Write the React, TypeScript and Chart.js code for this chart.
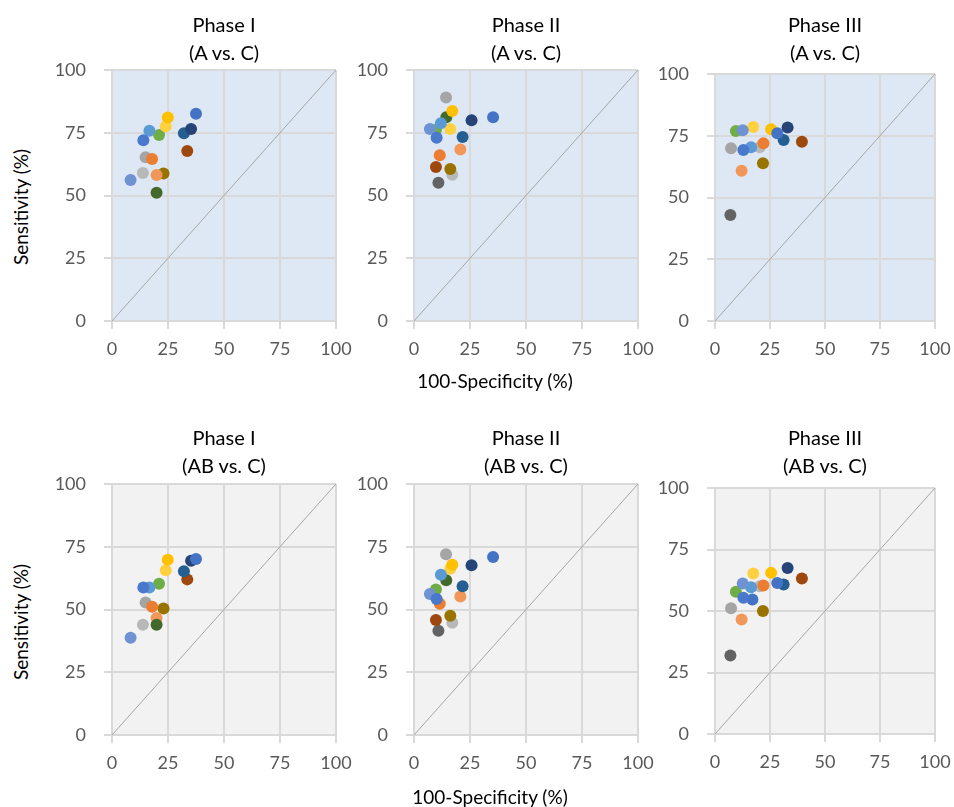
import React, { useEffect, useRef } from "react";
import { Chart, registerables } from "chart.js";

Chart.register(...registerables);

// Series (one per study/reader), names and colours
const seriesNames = [
  "S1", "S2", "S3", "S4", "S5", "S6", "S7", "S8", "S9",
  "S10", "S11", "S12", "S13", "S14", "S15", "S16", "S17", "S18",
];
const seriesColors = [
  "#4472C4", "#4A78CC", "#6E92D2", "#5B9BD5", "#264478", "#255E91",
  "#FFC000", "#FFD040", "#70AD47", "#43682B", "#ED7D31", "#F1975A",
  "#9E480E", "#997300", "#A5A5A5", "#B8B8B8", "#636363", "#4472C4",
];

// 100-Specificity (%) per phase (shared by A vs. C and AB vs. C)
const phase1X = [37.5, 14, 8.3, 16.7, 35.3, 32.1, 24.9, 24, 21, 19.9, 17.9, 19.9, 33.6, 23, 15, 13.8, null, null];
const phase2X = [35.3, 10.1, 7.1, 12, 25.7, 21.7, 17.1, 16.2, 9.8, 14.4, 11.5, 20.7, 9.8, 16.2, 14.3, 17.1, 10.9, null];
const phase3X = [28.3, 12.9, 12.6, 16.4, 33, 31.2, 25.5, 17.4, 9.5, null, 22, 12.1, 39.5, 21.8, 7.3, 20.3, 7, 17];

// Sensitivity (%) per panel
const phase1A_Y = [82.6, 72, 56.2, 75.8, 76.5, 74.8, 81.1, 77.6, 74.1, 51.1, 64.5, 58.2, 67.7, 58.8, 65.2, 59, null, null];
const phase2A_Y = [81.2, 73, 76.5, 78.8, 80, 73.3, 83.7, 76.5, 76.2, 81.2, 66, 68.3, 61.4, 60.6, 89, 58.3, 55.1, null];
const phase3A_Y = [76, 69.2, 77.2, 70.3, 78.3, 73.3, 77.6, 78.5, 76.9, null, 72, 60.8, 72.6, 63.9, 69.9, 70.3, 42.9, null];
const phase1AB_Y = [70.1, 58.8, 38.7, 58.8, 69.4, 65.2, 69.8, 65.6, 60.3, 43.9, 51.1, 46.6, 62, 50.4, 52.8, 43.9, null, null];
const phase2AB_Y = [70.9, 54.2, 56.2, 63.8, 67.6, 59.3, 67.8, 66.2, 58, 61.7, 52.3, 55.2, 45.8, 47.5, 72, 44.7, 41.5, null];
const phase3AB_Y = [61.4, 55.4, 61.2, 59.7, 67.5, 60.8, 65.5, 65.2, 57.8, null, 60.4, 46.5, 63.2, 50, 51.1, 60.1, 31.9, 54.7];

const axisTicks = [0, 25, 50, 75, 100];

const panels = [
  { title: ["Phase I", "(A vs. C)"], xs: phase1X, ys: phase1A_Y, bg: "#DEE8F4", L: 112, R: 336, T: 70, B: 321 },
  { title: ["Phase II", "(A vs. C)"], xs: phase2X, ys: phase2A_Y, bg: "#DEE8F4", L: 414, R: 638, T: 70, B: 321 },
  { title: ["Phase III", "(A vs. C)"], xs: phase3X, ys: phase3A_Y, bg: "#DEE8F4", L: 715, R: 935, T: 74, B: 321 },
  { title: ["Phase I", "(AB vs. C)"], xs: phase1X, ys: phase1AB_Y, bg: "#F2F2F2", L: 112, R: 336, T: 484, B: 735 },
  { title: ["Phase II", "(AB vs. C)"], xs: phase2X, ys: phase2AB_Y, bg: "#F2F2F2", L: 414, R: 638, T: 484, B: 735 },
  { title: ["Phase III", "(AB vs. C)"], xs: phase3X, ys: phase3AB_Y, bg: "#F2F2F2", L: 715, R: 935, T: 488, B: 734 },
];

const Y_AXIS_W = 72;
const X_AXIS_H = 50;
const PAD_TOP = 12;
const PAD_RIGHT = 24;
const FONT = "Lato, 'Open Sans', sans-serif";

function Panel({ p }: { p: any }) {
  const ref = useRef<HTMLCanvasElement>(null);
  const w = Y_AXIS_W + (p.R - p.L) + PAD_RIGHT;
  const h = PAD_TOP + (p.B - p.T) + X_AXIS_H;
  useEffect(() => {
    if (!ref.current) return;
    const bgPlugin = {
      id: "plotBg",
      beforeDraw(chart: any) {
        const { ctx, chartArea } = chart;
        ctx.save();
        ctx.fillStyle = p.bg;
        ctx.fillRect(chartArea.left, chartArea.top, chartArea.right - chartArea.left, chartArea.bottom - chartArea.top);
        ctx.restore();
      },
    };
    const pointSets = seriesNames.map((name, i) => ({
      type: "scatter" as const,
      label: name,
      data: p.xs[i] == null || p.ys[i] == null ? [] : [{ x: p.xs[i], y: p.ys[i] }],
      backgroundColor: seriesColors[i],
      borderWidth: 0,
      pointRadius: 6,
      order: 1,
    }));
    const diag = {
      type: "line" as const,
      label: "diag",
      data: [{ x: 0, y: 0 }, { x: 100, y: 100 }],
      borderColor: "#A6A6A6",
      borderWidth: 1,
      pointRadius: 0,
      order: 2,
    };
    const tickOpts = {
      stepSize: 25,
      color: "#595959",
      font: { family: FONT, size: 18 },
    };
    const chart = new Chart(ref.current, {
      type: "scatter",
      data: { datasets: [diag, ...pointSets] as any },
      options: {
        animation: false,
        responsive: false,
        devicePixelRatio: 1,
        layout: { padding: { top: PAD_TOP, right: PAD_RIGHT, left: 0, bottom: 0 } },
        plugins: { legend: { display: false }, tooltip: { enabled: false }, title: { display: false } },
        scales: {
          x: {
            type: "linear",
            min: 0,
            max: 100,
            afterBuildTicks: (s: any) => { s.ticks = axisTicks.map((v) => ({ value: v })); },
            afterFit: (s: any) => { s.height = X_AXIS_H; s.paddingLeft = 0; s.paddingRight = 0; },
            ticks: { ...tickOpts, padding: 9, maxRotation: 0 },
            grid: { color: "#D9D9D9", lineWidth: 2, tickLength: 8, drawTicks: true },
            border: { color: "#D9D9D9", width: 2 },
          },
          y: {
            type: "linear",
            min: 0,
            max: 100,
            afterBuildTicks: (s: any) => { s.ticks = axisTicks.map((v) => ({ value: v })); },
            afterFit: (s: any) => { s.width = Y_AXIS_W; s.paddingTop = 0; s.paddingBottom = 0; },
            ticks: { ...tickOpts, padding: 18 },
            grid: { color: "#D9D9D9", lineWidth: 2, tickLength: 8, drawTicks: true },
            border: { color: "#D9D9D9", width: 2 },
          },
        },
      },
      plugins: [bgPlugin],
    } as any);
    return () => chart.destroy();
  }, []);
  const cx = (p.L + p.R) / 2;
  const titleY = p.T < 200 ? 10 : 423;
  return (
    <>
      <canvas
        ref={ref}
        width={w}
        height={h}
        style={{ position: "absolute", left: p.L - Y_AXIS_W, top: p.T - PAD_TOP, width: w, height: h }}
      />
      <div
        style={{
          position: "absolute",
          left: cx,
          top: titleY,
          transform: "translateX(-50%)",
          textAlign: "center",
          fontFamily: FONT,
          fontSize: 20,
          lineHeight: "28px",
          color: "#000",
          whiteSpace: "nowrap",
        }}
      >
        <div>{p.title[0]}</div>
        <div>{p.title[1]}</div>
      </div>
    </>
  );
}

export default function App() {
  const axisTitle: React.CSSProperties = {
    position: "absolute",
    fontFamily: FONT,
    fontSize: 19,
    color: "#000",
    whiteSpace: "nowrap",
  };
  return (
    <div style={{ position: "absolute", left: 0, top: 0, width: 954, height: 807, background: "#fff", overflow: "hidden" }}>
      {panels.map((p, i) => (
        <Panel key={i} p={p} />
      ))}
      <div style={{ ...axisTitle, left: 20, top: 207, transform: "translate(-50%, -50%) rotate(-90deg)" }}>Sensitivity (%)</div>
      <div style={{ ...axisTitle, left: 20, top: 622, transform: "translate(-50%, -50%) rotate(-90deg)" }}>Sensitivity (%)</div>
      <div style={{ ...axisTitle, left: 495, top: 380, transform: "translate(-50%, -50%)" }}>100-Specificity (%)</div>
      <div style={{ ...axisTitle, left: 490, top: 796, transform: "translate(-50%, -50%)" }}>100-Specificity (%)</div>
    </div>
  );
}
